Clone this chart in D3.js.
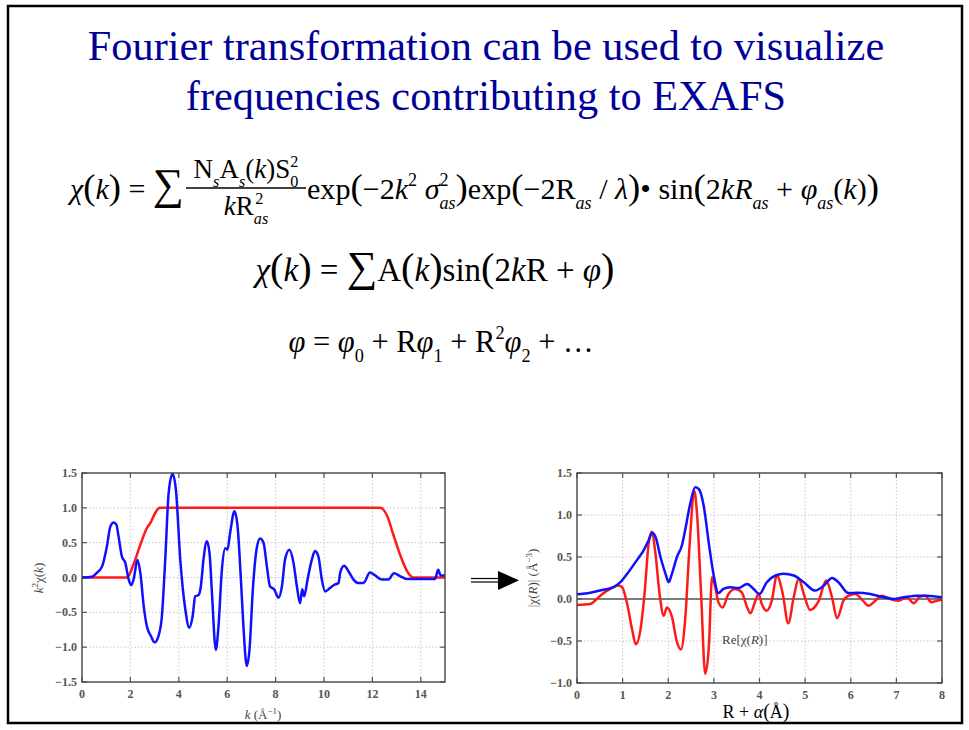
<!DOCTYPE html>
<html>
<head>
<meta charset="utf-8">
<script src="https://cdn.jsdelivr.net/npm/d3@7"></script>
<style>
  body { margin: 0; background: #fff; }
  svg { display: block; }
</style>
</head>
<body>
<div id="slide"></div>
<script>
// ---- data ----
const titleLines = ["Fourier transformation can be used to visualize", "frequencies contributing to EXAFS"];

// k-space: k^2 chi(k)
const kValues = [0, 0.41, 0.62, 0.83, 1.03, 1.17, 1.31, 1.42, 1.51, 1.65, 1.79, 1.93, 2.04, 2.13, 2.29, 2.41, 2.55, 2.68, 2.85, 3.0, 3.16, 3.30, 3.44, 3.58, 3.74, 3.88, 4.06, 4.27, 4.43, 4.57, 4.68, 4.82, 4.91, 5.02, 5.16, 5.27, 5.37, 5.53, 5.64, 5.78, 5.92, 6.01, 6.12, 6.30, 6.43, 6.56, 6.67, 6.81, 6.92, 7.06, 7.22, 7.36, 7.50, 7.64, 7.77, 7.94, 8.12, 8.26, 8.39, 8.57, 8.74, 8.88, 9.01, 9.10, 9.18, 9.32, 9.50, 9.63, 9.77, 9.91, 10.05, 10.25, 10.46, 10.60, 10.67, 10.83, 11.01, 11.22, 11.42, 11.63, 11.90, 12.11, 12.39, 12.66, 12.89, 13.14, 13.42, 13.83, 14.38, 14.59, 14.72, 14.82, 15.0];
const k2chi = [0, 0.01, 0.07, 0.16, 0.45, 0.73, 0.79, 0.76, 0.59, 0.30, 0.21, -0.03, -0.11, -0.03, 0.25, 0.07, -0.41, -0.70, -0.84, -0.93, -0.84, -0.56, 0.26, 1.21, 1.49, 1.26, 0.26, -0.46, -0.72, -0.56, -0.27, -0.25, -0.13, 0.26, 0.52, 0.35, -0.22, -1.04, -0.70, 0.11, 0.42, 0.40, 0.64, 0.95, 0.73, 0.01, -0.70, -1.27, -1.04, -0.17, 0.42, 0.56, 0.50, 0.16, -0.13, -0.17, -0.29, -0.13, 0.26, 0.40, 0.21, -0.13, -0.37, -0.17, -0.27, -0.03, 0.26, 0.38, 0.30, -0.03, -0.20, -0.15, -0.10, -0.08, 0.07, 0.17, 0.09, -0.03, -0.08, -0.08, 0.07, 0.03, -0.03, -0.03, 0.06, 0.02, -0.02, -0.02, -0.02, -0.02, 0.11, 0.03, 0.03];

// FT window
const windowK = [0, 1.86, 2.13, 2.41, 2.68, 2.82, 3.03, 3.21, 12.32, 12.59, 12.87, 13.14, 13.42, 13.62, 13.69, 15.0];
const windowVal = [0, 0, 0.19, 0.47, 0.71, 0.78, 0.93, 1.0, 1.0, 0.90, 0.61, 0.33, 0.10, 0.01, 0, 0];

// R-space: |chi(R)|
const rValues = [0, 0.29, 0.58, 0.80, 0.95, 1.10, 1.31, 1.46, 1.57, 1.65, 1.72, 1.83, 1.94, 2.01, 2.08, 2.19, 2.30, 2.37, 2.48, 2.59, 2.67, 2.78, 2.89, 2.99, 3.10, 3.21, 3.36, 3.54, 3.73, 3.87, 4.00, 4.16, 4.35, 4.53, 4.75, 4.97, 5.22, 5.41, 5.59, 5.73, 5.95, 6.14, 6.43, 6.72, 6.94, 7.16, 7.45, 7.67, 8.0];
const magChi = [0.056, 0.075, 0.11, 0.14, 0.20, 0.30, 0.46, 0.58, 0.70, 0.79, 0.74, 0.50, 0.30, 0.20, 0.30, 0.50, 0.64, 0.82, 1.13, 1.33, 1.31, 1.10, 0.66, 0.30, 0.07, 0.12, 0.14, 0.13, 0.18, 0.12, 0.06, 0.20, 0.28, 0.30, 0.28, 0.20, 0.10, 0.16, 0.25, 0.20, 0.07, 0.075, 0.06, 0.02, 0.0, 0.02, 0.04, 0.04, 0.02];

// R-space: Re[chi(R)]
const rReValues = [0, 0.29, 0.51, 0.73, 0.91, 0.99, 1.10, 1.21, 1.29, 1.39, 1.48, 1.57, 1.64, 1.72, 1.81, 1.90, 1.97, 2.08, 2.19, 2.28, 2.37, 2.47, 2.57, 2.63, 2.72, 2.81, 2.89, 2.96, 3.03, 3.10, 3.19, 3.32, 3.47, 3.61, 3.73, 3.80, 3.91, 3.98, 4.05, 4.16, 4.27, 4.38, 4.51, 4.63, 4.75, 4.86, 4.97, 5.11, 5.30, 5.46, 5.59, 5.70, 5.84, 5.95, 6.10, 6.25, 6.39, 6.54, 6.68, 6.87, 7.05, 7.23, 7.38, 7.52, 7.63, 7.77, 7.89, 8.0];
const reChi = [-0.07, -0.06, 0.04, 0.12, 0.16, 0.14, -0.06, -0.37, -0.54, -0.37, 0.06, 0.66, 0.80, 0.54, 0.06, -0.20, -0.10, -0.21, -0.51, -0.60, -0.25, 0.66, 1.29, 1.02, 0.06, -0.89, -0.57, 0.26, 0.14, -0.04, -0.10, 0.06, 0.12, 0.08, -0.10, -0.17, -0.02, 0.06, -0.06, -0.14, -0.02, 0.28, 0.06, -0.29, 0.02, 0.24, 0.06, -0.13, -0.02, 0.22, 0.02, -0.23, -0.02, 0.04, 0.06, -0.01, -0.08, -0.02, 0.04, 0.0, -0.02, 0.02, -0.05, 0.03, 0.04, -0.04, -0.02, -0.01];

const kTicks = [0, 2, 4, 6, 8, 10, 12, 14];
const kChiTicks = [-1.5, -1.0, -0.5, 0.0, 0.5, 1.0, 1.5];
const rTicks = [0, 1, 2, 3, 4, 5, 6, 7, 8];
const chiRTicks = [-1.0, -0.5, 0.0, 0.5, 1.0, 1.5];

// ---- page ----
const W = 969, H = 730;
const serif = "'Liberation Serif', 'Times New Roman', serif";
const svg = d3.select("#slide").append("svg").attr("width", W).attr("height", H);

svg.append("rect")
  .attr("x", 8).attr("y", 6).attr("width", 954).attr("height", 717)
  .attr("fill", "none").attr("stroke", "#000").attr("stroke-width", 2.5);

svg.selectAll("text.title")
  .data(titleLines)
  .join("text")
  .attr("class", "title")
  .attr("x", 486)
  .attr("y", (d, i) => 60 + i * 50)
  .attr("text-anchor", "middle")
  .attr("font-family", serif)
  .attr("font-size", 42.3)
  .attr("fill", "#000099")
  .text(d => d);

// math text helper: parts are strings or [string, opts]
function mathText(x, y, size, parts, anchor) {
  const t = svg.append("text")
    .attr("x", x).attr("y", y)
    .attr("font-family", serif)
    .attr("font-size", size)
    .attr("text-anchor", anchor || "start")
    .attr("fill", "#000");
  let shift = 0;
  parts.forEach(p => {
    const str = typeof p === "string" ? p : p[0];
    const o = typeof p === "string" ? {} : p[1];
    const target = o.sub ? size * 0.34 : o.sup ? -size * 0.42 : 0;
    const ts = t.append("tspan").attr("dy", target - shift).text(str);
    shift = target;
    if (o.dx) ts.attr("dx", o.dx);
    if (o.i) ts.attr("font-style", "italic");
    if (o.sub || o.sup) ts.attr("font-size", size * 0.6);
    if (o.big) ts.attr("font-size", size * o.big);
  });
  return t;
}

const I = { i: true };
const SUB = { sub: true, i: true };
const BP = { big: 1.22 };

// equation 1
mathText(70, 199, 30, [["χ", I], ["(", BP], ["k", I], [")", BP], " = ", ["∑", { big: 1.45 }]]);
mathText(246, 178, 27, ["N", ["s", SUB], "A", ["s", SUB], "(", ["k", I], ")S", ["0", { sub: true }], ["2", { sup: true, dx: -8 }]], "middle");
svg.append("line").attr("x1", 186).attr("x2", 306).attr("y1", 188).attr("y2", 188)
  .attr("stroke", "#000").attr("stroke-width", 1.6);
mathText(246, 215, 27, [["k", I], "R", ["as", SUB], ["2", { sup: true, dx: -13 }]], "middle");
mathText(307, 199, 30.1, [
  "exp", ["(", BP], "−2", ["k", I], ["2", { sup: true }], " ", ["σ", I], ["2", { sup: true }], ["as", { sub: true, i: true, dx: -9 }], [")", BP],
  "exp", ["(", BP], "−2R", ["as", SUB], " / ", ["λ", I], [")", BP], "• sin", ["(", BP], "2", ["kR", I], ["as", SUB], " + ",
  ["φ", I], ["as", SUB], "(", ["k", I], ")", [")", BP]
]);

// equation 2
mathText(435, 281, 33, [["χ", I], ["(", BP], ["k", I], [")", BP], " = ", ["∑", { big: 1.3 }], "A", ["(", BP], ["k", I], [")", BP],
  "sin", ["(", BP], "2", ["k", I], "R + ", ["φ", I], [")", BP]], "middle");

// equation 3
mathText(441, 352, 30.5, [["φ", I], " = ", ["φ", I], ["0", { sub: true }], " + R", ["φ", I], ["1", { sub: true }], " + R", ["2", { sup: true }],
  ["φ", I], ["2", { sub: true }], " + …"], "middle");

// ---- chart helper ----
function chart(box, xDomain, yDomain, xTicks, yTicks) {
  const x = d3.scaleLinear().domain(xDomain).range([box.x0, box.x1]);
  const y = d3.scaleLinear().domain(yDomain).range([box.y1, box.y0]);
  const g = svg.append("g");
  const fmt = d3.format(".1f");

  // dotted grid
  g.selectAll("line.gx").data(xTicks.filter(t => t > xDomain[0] && t < xDomain[1])).join("line")
    .attr("x1", d => x(d)).attr("x2", d => x(d)).attr("y1", box.y0).attr("y2", box.y1)
    .attr("stroke", "#bbb").attr("stroke-width", 0.8).attr("stroke-dasharray", "1.5,2");
  g.selectAll("line.gy").data(yTicks.filter(t => t > yDomain[0] && t < yDomain[1])).join("line")
    .attr("x1", box.x0).attr("x2", box.x1).attr("y1", d => y(d)).attr("y2", d => y(d))
    .attr("stroke", "#bbb").attr("stroke-width", 0.8).attr("stroke-dasharray", "1.5,2");

  // inward ticks on all four sides
  const tl = 5;
  xTicks.forEach(t => {
    g.append("line").attr("x1", x(t)).attr("x2", x(t)).attr("y1", box.y1).attr("y2", box.y1 - tl).attr("stroke", "#555").attr("stroke-width", 1.2);
    g.append("line").attr("x1", x(t)).attr("x2", x(t)).attr("y1", box.y0).attr("y2", box.y0 + tl).attr("stroke", "#555").attr("stroke-width", 1.2);
  });
  yTicks.forEach(t => {
    g.append("line").attr("x1", box.x0).attr("x2", box.x0 + tl).attr("y1", y(t)).attr("y2", y(t)).attr("stroke", "#555").attr("stroke-width", 1.2);
    g.append("line").attr("x1", box.x1).attr("x2", box.x1 - tl).attr("y1", y(t)).attr("y2", y(t)).attr("stroke", "#555").attr("stroke-width", 1.2);
  });

  g.selectAll("text.xt").data(xTicks).join("text")
    .attr("x", d => x(d)).attr("y", box.y1 + 16)
    .attr("text-anchor", "middle").attr("font-family", serif).attr("font-weight", "bold")
    .attr("font-size", 12).attr("fill", "#555").text(d => d);
  g.selectAll("text.yt").data(yTicks).join("text")
    .attr("x", box.x0 - 5).attr("y", d => y(d) + 4)
    .attr("text-anchor", "end").attr("font-family", serif).attr("font-weight", "bold")
    .attr("font-size", 12).attr("fill", "#555").text(d => fmt(d));

  return { x, y, g };
}

function curve(c, xs, ys, color) {
  const line = d3.line().x(d => c.x(d[0])).y(d => c.y(d[1])).curve(d3.curveMonotoneX);
  c.g.append("path").datum(xs.map((v, i) => [v, ys[i]]))
    .attr("d", line).attr("fill", "none").attr("stroke", color)
    .attr("stroke-width", 2.5).attr("stroke-linejoin", "round");
}

function frame(c, box) {
  c.g.append("rect").attr("x", box.x0).attr("y", box.y0)
    .attr("width", box.x1 - box.x0).attr("height", box.y1 - box.y0)
    .attr("fill", "none").attr("stroke", "#444").attr("stroke-width", 1.4);
}

// left: k-space
const boxK = { x0: 82, x1: 445, y0: 473, y1: 682 };
const ck = chart(boxK, [0, 15], [-1.5, 1.5], kTicks, kChiTicks);
curve(ck, windowK, windowVal, "#ff1a1a");
curve(ck, kValues, k2chi, "#1010ff");
frame(ck, boxK);

svg.append("text").attr("x", 263).attr("y", 719).attr("text-anchor", "middle")
  .attr("font-family", serif).attr("font-size", 13).attr("fill", "#444")
  .call(t => {
    t.append("tspan").attr("font-style", "italic").text("k");
    t.append("tspan").text(" (Å");
    t.append("tspan").attr("dy", -5).attr("font-size", 9).text("−1");
    t.append("tspan").attr("dy", 5).text(")");
  });
svg.append("text").attr("transform", "translate(43,578) rotate(-90)").attr("text-anchor", "middle")
  .attr("font-family", serif).attr("font-size", 13).attr("fill", "#444")
  .call(t => {
    t.append("tspan").attr("font-style", "italic").text("k");
    t.append("tspan").attr("dy", -5).attr("font-size", 9).text("2");
    t.append("tspan").attr("dy", 5).text("χ(");
    t.append("tspan").attr("font-style", "italic").text("k");
    t.append("tspan").text(")");
  });

// right: R-space
const boxR = { x0: 577, x1: 942, y0: 473, y1: 683 };
const cr = chart(boxR, [0, 8], [-1.0, 1.5], rTicks, chiRTicks);
cr.g.append("line").attr("x1", boxR.x0).attr("x2", boxR.x1)
  .attr("y1", cr.y(0)).attr("y2", cr.y(0)).attr("stroke", "#555").attr("stroke-width", 1.4);
curve(cr, rReValues, reChi, "#ff1a1a");
curve(cr, rValues, magChi, "#1010ff");
frame(cr, boxR);

svg.append("text").attr("x", 722).attr("y", 644)
  .attr("font-family", serif).attr("font-size", 13).attr("fill", "#444")
  .call(t => {
    t.append("tspan").text("Re[χ(");
    t.append("tspan").attr("font-style", "italic").text("R");
    t.append("tspan").text(")]");
  });
svg.append("text").attr("transform", "translate(537,578) rotate(-90)").attr("text-anchor", "middle")
  .attr("font-family", serif).attr("font-size", 13).attr("fill", "#444")
  .call(t => {
    t.append("tspan").text("|χ(");
    t.append("tspan").attr("font-style", "italic").text("R");
    t.append("tspan").text(")| (Å");
    t.append("tspan").attr("dy", -5).attr("font-size", 9).text("−3");
    t.append("tspan").attr("dy", 5).text(")");
  });
svg.append("text").attr("x", 756).attr("y", 718).attr("text-anchor", "middle")
  .attr("font-family", serif).attr("font-size", 18).attr("fill", "#000")
  .call(t => {
    t.append("tspan").text("R + ");
    t.append("tspan").attr("font-style", "italic").text("α");
    t.append("tspan").attr("font-size", 20).text("(");
    t.append("tspan").text("Å");
    t.append("tspan").attr("font-size", 20).text(")");
  });

// arrow between the panels
svg.append("line").attr("x1", 471).attr("x2", 500).attr("y1", 578.5).attr("y2", 578.5).attr("stroke", "#000").attr("stroke-width", 1.2);
svg.append("line").attr("x1", 471).attr("x2", 500).attr("y1", 582).attr("y2", 582).attr("stroke", "#000").attr("stroke-width", 1.2);
svg.append("path").attr("d", "M498,571 L519,580.3 L498,590 Z").attr("fill", "#000");
</script>
</body>
</html>
